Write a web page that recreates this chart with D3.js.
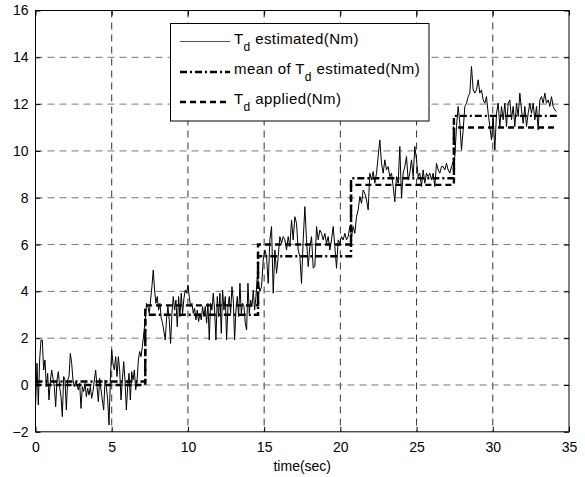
<!DOCTYPE html>
<html>
<head>
<meta charset="utf-8">
<script src="https://cdn.jsdelivr.net/npm/d3@7.9.0/dist/d3.min.js"></script>
<style>
  body { margin: 0; background: #fff; }
  svg { display: block; font-family: "Liberation Sans", Arial, sans-serif; }
</style>
</head>
<body>
<svg id="chart" width="585" height="477"></svg>
<script>
// --- data ---

// estimated Td (Nm), sampled in four stretches; each stretch has its time span
const estSpans = [[0.01, 7.01], [7.2, 14.55], [14.72, 27.29], [27.51, 34.18]];

const estPart1 = [
  -0.78, 0.93, -0.85, 1.07, 1.92, 1.92, 0.64, 1.07, -0.07, 0.50,
  -0.64, 0.14, 0.64, 0.29, -0.07, -0.93, 0.21, 0.57, -0.07, -0.50,
  -1.35, 0.36, 0.21, -1.07, 0.21, 0.36, 1.35, 0.93, 0.21, -0.07,
  0.14, 0.0, -0.21, 0.07, -1.0, -0.07, -0.28, 0.07, -0.50, -0.14,
  -0.43, -0.07, -0.57, -0.28, 0.21, 0.64, -0.07, -0.71, 0.29, -0.21,
  -0.64, -1.07, 0.21, -0.07, -0.64, -1.71, 0.21, 1.5, 0.93, 0.64,
  1.21, 0.36, 1.21, 0.64, -0.64, 0.21, 1.0, 0.21, -1.07, -0.07,
  0.5, -0.64, 0.57, 0.21, 0.64, -0.21, 0.14, 1.07, 1.43, 1.21,
  1.64
];

const estPart2 = [
  2.78, 3.49, 3.35, 3.06, 3.63, 4.20, 4.91, 4.06, 3.49, 3.78,
  3.20, 3.49, 2.85, 2.64, 2.28, 1.92, 2.85, 3.35, 2.78, 1.78,
  3.06, 3.78, 3.20, 3.63, 2.49, 3.78, 2.92, 3.92, 3.06, 3.70,
  4.06, 3.92, 4.27, 3.78, 3.35, 3.49, 3.06, 3.28, 2.78, 3.20,
  2.71, 3.06, 2.78, 3.35, 2.92, 3.35, 2.64, 3.49, 1.92, 3.49,
  3.20, 3.92, 3.20, 1.92, 3.78, 2.92, 3.92, 2.21, 4.06, 3.20,
  3.78, 1.92, 3.35, 3.78, 3.06, 4.20, 3.63, 1.92, 3.20, 3.78,
  2.92, 4.35, 3.06, 3.49, 3.35, 2.64, 2.35, 4.35, 3.06, 3.63,
  3.35, 4.06, 3.20, 3.78, 4.63
];

const estPart3 = [
  3.99, 4.20, 5.34, 5.77, 5.48, 4.34, 6.20, 6.77, 3.92, 5.77,
  4.77, 5.48, 6.34, 6.05, 6.34, 6.20, 5.77, 6.34, 5.91, 7.05,
  6.20, 7.19, 6.91, 5.77, 5.48, 4.34, 6.20, 7.62, 6.20, 5.06,
  5.91, 6.34, 4.99, 5.06, 6.77, 6.20, 6.62, 6.48, 6.20, 6.48,
  6.05, 6.34, 5.77, 6.20, 6.77, 5.91, 4.99, 6.20, 6.05, 6.34,
  6.20, 6.48, 6.20, 6.34, 6.77, 6.34, 6.77, 6.48, 7.19, 7.48,
  8.05, 7.76, 8.33, 8.19, 7.91, 7.48, 9.05, 8.76, 9.12, 8.62,
  9.05, 9.76, 10.47, 9.47, 9.05, 9.62, 9.19, 9.33, 8.90, 9.05,
  8.48, 7.83, 8.90, 8.62, 10.19, 7.98, 9.05, 9.33, 9.76, 8.76,
  9.05, 9.62, 8.90, 10.19, 9.62, 8.90, 9.05, 8.48, 9.19, 8.62,
  9.05, 8.90, 9.05, 8.76, 9.05, 8.48, 9.47, 9.19, 9.05, 9.33,
  9.33, 9.19, 9.47, 9.19, 9.05, 9.33
];

const estPart4 = [
  9.76, 11.04, 11.90, 11.18, 10.04, 10.90, 11.90, 12.04, 12.32, 12.47,
  13.61, 12.61, 12.47, 12.61, 13.04, 12.47, 12.61, 12.18, 12.04, 12.32,
  11.61, 11.04, 10.47, 11.47, 10.04, 11.61, 12.04, 11.04, 11.90, 11.33,
  12.04, 11.04, 12.04, 12.18, 11.33, 11.90, 11.04, 12.04, 11.47, 12.47,
  11.75, 11.18, 11.90, 11.04, 11.61, 12.04, 11.61, 12.04, 11.33, 11.90,
  10.90, 12.18, 12.32, 12.04, 12.47, 12.04, 12.18, 11.90, 12.32, 11.90,
  11.75, 11.68
];

// step levels: switch times, then one level per interval
const stepTimes = [0, 7.2, 14.6, 20.7, 27.45, 34.2];
const appliedLevels = [0, 3.4, 6.0, 8.55, 11.0];
const meanLevels = [0.15, 3.0, 5.5, 8.83, 11.5];

const xTicks = [0, 5, 10, 15, 20, 25, 30, 35];
const yTicks = [-2, 0, 2, 4, 6, 8, 10, 12, 14, 16];

const legendItems = [
  { pre: 'T', sub: 'd', post: ' estimated(Nm)', style: 'est' },
  { pre: 'mean of T', sub: 'd', post: ' estimated(Nm)', style: 'mean' },
  { pre: 'T', sub: 'd', post: ' applied(Nm)', style: 'applied' }
];

// --- build the series ---
function spreadPart(values, span) {
  const step = (span[1] - span[0]) / (values.length - 1);
  return values.map((v, i) => [span[0] + i * step, v]);
}

const estimated = [estPart1, estPart2, estPart3, estPart4]
  .flatMap((part, i) => spreadPart(part, estSpans[i]));

function stepSeries(levels) {
  const pts = levels.map((v, i) => [stepTimes[i], v]);
  pts.push([stepTimes[stepTimes.length - 1], levels[levels.length - 1]]);
  return pts;
}

const applied = stepSeries(appliedLevels);
const mean = stepSeries(meanLevels);

// --- drawing ---
const svg = d3.select('#chart');
const plotLeft = 35.5, plotRight = 569, plotTop = 10.5, plotBottom = 431.8;

const x = d3.scaleLinear().domain([0, 35]).range([plotLeft, plotRight]);
const y = d3.scaleLinear().domain([-2, 16]).range([plotBottom, plotTop]);

const styles = {
  est: { width: 1, dash: null, color: '#000' },
  mean: { width: 2.4, dash: '7,3,2,3', color: '#000' },
  applied: { width: 2.4, dash: '6,4', color: '#000' }
};

// grid
const grid = svg.append('g');
grid.selectAll('line.gx')
  .data(xTicks.slice(1, -1))
  .join('line')
  .attr('x1', d => x(d)).attr('x2', d => x(d))
  .attr('y1', plotTop).attr('y2', plotBottom)
  .attr('stroke', '#333')
  .attr('stroke-width', 1)
  .attr('stroke-dasharray', '7,5');

grid.selectAll('line.gy')
  .data(yTicks.slice(1, -1))
  .join('line')
  .attr('x1', plotLeft).attr('x2', plotRight)
  .attr('y1', d => y(d)).attr('y2', d => y(d))
  .attr('stroke', '#777')
  .attr('stroke-width', 1)
  .attr('stroke-dasharray', '7,5');

// series
const line = d3.line().x(d => x(d[0])).y(d => y(d[1]));
const stepLine = d3.line().x(d => x(d[0])).y(d => y(d[1])).curve(d3.curveStepAfter);

svg.append('path')
  .datum(estimated)
  .attr('d', line)
  .attr('fill', 'none')
  .attr('stroke', styles.est.color)
  .attr('stroke-width', styles.est.width)
  .attr('stroke-linejoin', 'round');

svg.append('path')
  .datum(applied)
  .attr('d', stepLine)
  .attr('fill', 'none')
  .attr('stroke', styles.applied.color)
  .attr('stroke-width', styles.applied.width)
  .attr('stroke-dasharray', styles.applied.dash);

svg.append('path')
  .datum(mean)
  .attr('d', stepLine)
  .attr('fill', 'none')
  .attr('stroke', styles.mean.color)
  .attr('stroke-width', styles.mean.width)
  .attr('stroke-dasharray', styles.mean.dash);

// axes, MATLAB style: box with inward ticks on every side
const tickLen = 5;
svg.append('g')
  .attr('transform', `translate(0,${plotBottom})`)
  .call(d3.axisBottom(x).tickValues(xTicks).tickSize(-tickLen).tickPadding(10))
  .call(g => g.select('.domain').remove());
svg.append('g')
  .attr('transform', `translate(0,${plotTop})`)
  .call(d3.axisTop(x).tickValues(xTicks).tickSize(-tickLen).tickFormat(''))
  .call(g => g.select('.domain').remove());
svg.append('g')
  .attr('transform', `translate(${plotLeft},0)`)
  .call(d3.axisLeft(y).tickValues(yTicks).tickSize(-tickLen).tickPadding(7))
  .call(g => g.select('.domain').remove());
svg.append('g')
  .attr('transform', `translate(${plotRight},0)`)
  .call(d3.axisRight(y).tickValues(yTicks).tickSize(-tickLen).tickFormat(''))
  .call(g => g.select('.domain').remove());

svg.selectAll('.tick text')
  .attr('font-size', 14)
  .attr('font-family', '"Liberation Sans", Arial, sans-serif')
  .attr('fill', '#000');
svg.selectAll('.tick line').attr('stroke', '#000');

svg.append('rect')
  .attr('x', plotLeft).attr('y', plotTop)
  .attr('width', plotRight - plotLeft).attr('height', plotBottom - plotTop)
  .attr('fill', 'none')
  .attr('stroke', '#000')
  .attr('stroke-width', 1);

svg.append('text')
  .attr('x', (plotLeft + plotRight) / 2)
  .attr('y', 471)
  .attr('text-anchor', 'middle')
  .attr('font-size', 14)
  .text('time(sec)');

// legend
const legend = svg.append('g');
legend.append('rect')
  .attr('x', 170.5).attr('y', 23.5)
  .attr('width', 258.5).attr('height', 97.5)
  .attr('fill', '#fff')
  .attr('stroke', '#000')
  .attr('stroke-width', 1);

const rowY = [41.5, 72, 102];
legendItems.forEach((item, i) => {
  const s = styles[item.style];
  legend.append('line')
    .attr('x1', 180).attr('x2', 230)
    .attr('y1', rowY[i]).attr('y2', rowY[i])
    .attr('stroke', item.style === 'est' ? '#555' : s.color)
    .attr('stroke-width', item.style === 'est' ? 1 : s.width)
    .attr('stroke-dasharray', s.dash);

  const t = legend.append('text')
    .attr('x', 234)
    .attr('y', rowY[i] + 2)
    .attr('font-size', 15)
    .attr('letter-spacing', 0.4);
  t.append('tspan').text(item.pre);
  t.append('tspan').attr('dy', 7).attr('font-size', 12).text(item.sub);
  t.append('tspan').attr('dy', -7).text(item.post);
});
</script>
</body>
</html>
